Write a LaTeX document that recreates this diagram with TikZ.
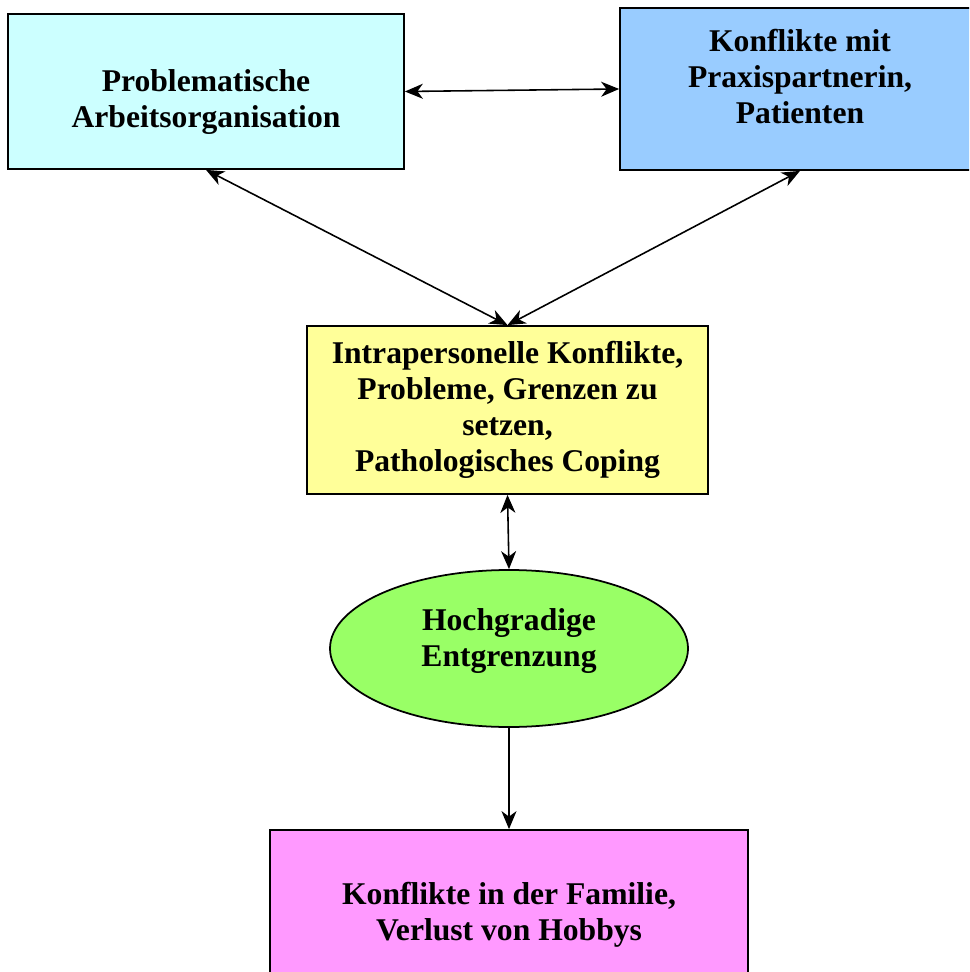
\documentclass[tikz,border=0pt]{standalone}
\usepackage{fontspec}
\setmainfont{Liberation Serif}
\usepackage{tikz}
\usetikzlibrary{arrows.meta,shapes.geometric}

\definecolor{boxcyan}{HTML}{CCFFFF}
\definecolor{boxblue}{HTML}{99CCFF}
\definecolor{boxyellow}{HTML}{FFFF99}
\definecolor{boxgreen}{HTML}{99FF66}
\definecolor{boxpink}{HTML}{FF99FF}

\tikzset{
	block/.style={draw,line width=1pt,align=center,inner sep=2pt,
		font=\fontsize{18}{20.5}\selectfont\bfseries},
	link/.style={line width=0.9pt,{Stealth[length=3.6mm,width=3mm,inset=1.1mm]}-{Stealth[length=3.6mm,width=3mm,inset=1.1mm]}},
	onelink/.style={line width=0.9pt,-{Stealth[length=3.6mm,width=3mm,inset=1.1mm]}}
}

\begin{document}
\begin{tikzpicture}
		\useasboundingbox (0,0) rectangle (19.38,-19.44);
		\clip (0,0) rectangle (19.38,-19.44);
		\draw
		node[block,fill=boxcyan,minimum width=7.92cm,minimum height=3.1cm] (arbeit) at (4.12, -1.83){\rule{0pt}{0.85cm}Problematische\\Arbeitsorganisation}
		node[block,fill=boxblue,minimum width=7.2cm,minimum height=3.24cm] (partner) at (16.0, -1.78){Konflikte mit\\Praxispartnerin,\\Patienten\\[-0.2cm]~}
		node[block,fill=boxyellow,minimum width=8.02cm,minimum height=3.36cm] (intra) at (10.15, -8.2){Intrapersonelle Konflikte,\\Probleme, Grenzen zu\\setzen,\\Pathologisches Coping}
		node[block,ellipse,fill=boxgreen,minimum width=7.16cm,minimum height=3.14cm] (entgrenz) at (10.18, -12.97){Hochgradige\\Entgrenzung\\[-0.3cm]~}
		node[block,fill=boxpink,minimum width=9.56cm,minimum height=3.4cm] (familie) at (10.18, -18.3){Konflikte in der Familie,\\Verlust von Hobbys};
		\draw [link] (arbeit.east) -- (partner.west);
		\draw [link] (arbeit.south) -- (intra.north);
		\draw [link] (partner.south) -- (intra.north);
		\draw [link] (intra.south) -- (entgrenz.north);
		\draw [onelink] (entgrenz.south) -- (familie.north);
\end{tikzpicture}
\end{document}
